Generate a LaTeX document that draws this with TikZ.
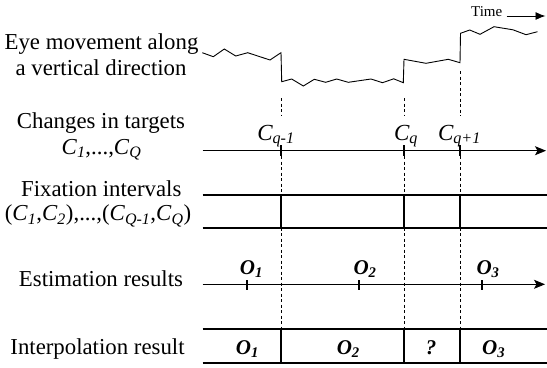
\documentclass[tikz,border=0pt]{standalone}
\usepackage{fontspec}
\setmainfont{Liberation Serif}
\usetikzlibrary{arrows.meta}
\begin{document}
\begin{tikzpicture}[x=1bp,y=-1bp,
  lbl/.style={font=\fontsize{22.8bp}{26bp}\selectfont, anchor=base, inner sep=0pt},
  clbl/.style={font=\fontsize{23bp}{26bp}\selectfont\itshape, anchor=base, inner sep=0pt},
  olbl/.style={font=\fontsize{21bp}{24bp}\selectfont\bfseries\itshape, anchor=base, inner sep=0pt},
  thinline/.style={line width=0.9bp},
  thickline/.style={line width=2.2bp},
  dashline/.style={line width=0.9bp, dash pattern=on 3bp off 2.5bp},
  axisline/.style={thinline, -{Stealth[length=11bp,width=9bp,inset=2.5bp]}},
]
\useasboundingbox (0,0) rectangle (547,367);

% left labels
\node[lbl] (eye1) at (101.5,49.3) {Eye movement along};
\node[lbl] (eye2) at (101,75) {a vertical direction};
\node[lbl] (chg1) at (101,128.3) {Changes in targets};
\node[lbl] (chg2) at (101.5,154) {\textit{C}\textsubscript{\textit{1}},...,\textit{C}\textsubscript{\textit{Q}}};
\node[lbl] (fix1) at (101.3,196) {Fixation intervals};
\node[lbl] (fix2) at (98,220.7) {(\textit{C}\textsubscript{\textit{1}},\textit{C}\textsubscript{\textit{2}}),...,(\textit{C}\textsubscript{\textit{Q-1}},\textit{C}\textsubscript{\textit{Q}})};
\node[lbl] (est) at (101,286) {Estimation results};
\node[lbl] (int) at (97.5,354.3) {Interpolation result};

% time arrow
\node[font=\fontsize{15bp}{17bp}\selectfont, anchor=base, inner sep=0pt] (time) at (486.7,16.5) {Time};
\coordinate (ta) at (506.5,16);
\coordinate (tb) at (545.5,16);
\draw[thinline, -{Latex[length=10bp,width=8bp]}] (ta) -- (tb);

% eye movement trace
\draw[thinline, line join=miter]
  (202.3,52.7) -- (213.3,56.7) -- (224.3,49) -- (235.7,56) -- (247.7,52.7)
  -- (270,60) -- (281,52.7) -- (281.7,81.7) -- (291.7,79) -- (303.3,86)
  -- (314.3,79.3) -- (325.7,82.3) -- (336.7,79) -- (348.3,82.3) -- (371,79)
  -- (382.5,82.7) -- (393.7,78.8) -- (403.3,82.7) -- (404,59.3) -- (426,63.3)
  -- (448.3,59.3) -- (460,62.7) -- (460.5,33.3) -- (469.7,30) -- (480,34.3)
  -- (494,26.7) -- (513,29.8) -- (526,34.7) -- (537.5,31.7);

% dashed guide lines
\foreach \x/\n/\t in {281/a/98,404/b/98,460/c/71}{
  \coordinate (u\n) at (\x,\t);
  \coordinate (v\n) at (\x,116);
  \coordinate (w\n) at (\x,150.7);
  \coordinate (z\n) at (\x,329.3);
  \draw[dashline] (u\n) -- (v\n);
  \draw[dashline] (w\n) -- (z\n);
}

% changes axis
\coordinate (ca) at (202.7,150.7);
\coordinate (cb) at (546,150.7);
\draw[axisline] (ca) -- (cb);
\foreach \x/\n in {281/a,404/b,460/c}{
  \coordinate (k\n) at (\x,145);
  \coordinate (m\n) at (\x,156);
  \draw[thickline] (k\n) -- (m\n);
}
\node[clbl] (cqm) at (276,140) {C\textsubscript{q-1}};
\node[clbl] (cq) at (406,140) {C\textsubscript{q}};
\node[clbl] (cqp) at (459.5,140) {C\textsubscript{q+1}};

% fixation intervals
\coordinate (fa) at (202.7,195);
\coordinate (fb) at (547,195);
\coordinate (fc) at (202.7,228.3);
\coordinate (fd) at (547,228.3);
\draw[thickline] (fa) -- (fb);
\draw[thickline] (fc) -- (fd);
\foreach \x/\n in {281/a,404/b,460/c}{
  \coordinate (fu\n) at (\x,195);
  \coordinate (fv\n) at (\x,228.3);
  \draw[thickline] (fu\n) -- (fv\n);
}

% estimation axis
\coordinate (ea) at (202.7,284.3);
\coordinate (eb) at (545,284.3);
\draw[axisline] (ea) -- (eb);
\foreach \x/\n in {247.3/a,359.3/b,482.3/c}{
  \coordinate (ek\n) at (\x,280);
  \coordinate (em\n) at (\x,289.5);
  \draw[thickline] (ek\n) -- (em\n);
}
\node[olbl] (o1) at (251.5,274) {O\textsubscript{1}};
\node[olbl] (o2) at (365,274) {O\textsubscript{2}};
\node[olbl] (o3) at (488,274) {O\textsubscript{3}};

% interpolation result
\coordinate (ia) at (202.7,329.3);
\coordinate (ib) at (547,329.3);
\coordinate (ic) at (202.7,363.3);
\coordinate (id) at (547,363.3);
\draw[thickline] (ia) -- (ib);
\draw[thickline] (ic) -- (id);
\foreach \x/\n in {281/a,404/b,460/c}{
  \coordinate (iu\n) at (\x,329.3);
  \coordinate (iv\n) at (\x,363.3);
  \draw[thickline] (iu\n) -- (iv\n);
}
\node[olbl] (p1) at (247.5,354.5) {O\textsubscript{1}};
\node[olbl] (p2) at (348.3,354.5) {O\textsubscript{2}};
\node[olbl] (pq) at (431,354.5) {?};
\node[olbl] (p3) at (493.7,354.5) {O\textsubscript{3}};
\end{tikzpicture}
\end{document}
